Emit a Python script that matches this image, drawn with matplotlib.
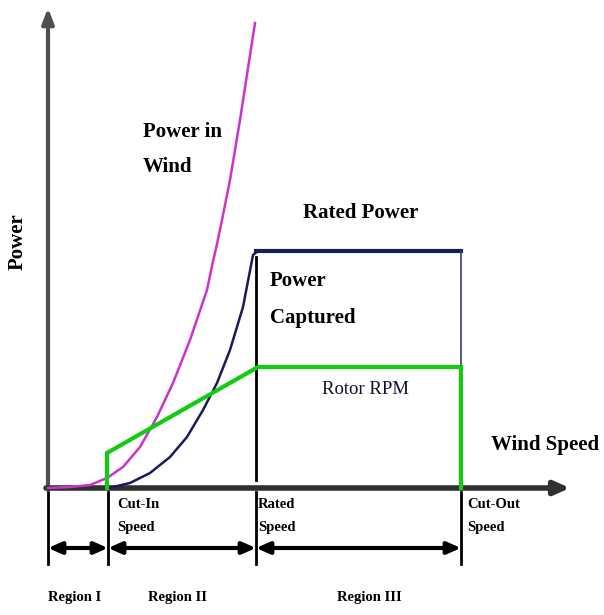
import matplotlib
matplotlib.use("Agg")
import matplotlib.pyplot as plt

# ---- data (wind speed / power in drawing units) ----
wind_x = [48, 70, 90, 107, 123, 140, 157, 173, 190, 207, 212, 217, 222, 230, 240, 255]
wind_p = [0, 1, 3, 10, 21, 41, 71, 105, 148, 198, 222, 244, 268, 308, 368, 465]

cap_x = [108, 113, 130, 150, 170, 187, 203, 217, 230, 243, 253, 258]
cap_p = [0, 1, 5, 15, 31, 51, 78, 105, 138, 181, 233, 237]

rated_x = [256, 461]
rated_p = [237, 237]

rpm_x = [107, 107, 258, 461, 461]
rpm_p = [0, 35, 121, 121, 0]

speeds = [48, 108, 256, 461]
speed_labels = ["", "Cut-In\nSpeed", "Rated\nSpeed", "Cut-Out\nSpeed"]
speed_offsets = [0, 9, 2, 6]
region_labels = ["Region I", "Region II", "Region III"]
region_offsets = [-3, -5, 11]

Y0 = 488  # baseline pixel row

fig = plt.figure(figsize=(6.04, 6.15), dpi=100)
ax = fig.add_axes([0, 0, 1, 1])
ax.set_xlim(0, 604)
ax.set_ylim(615, 0)
ax.axis("off")

def py(p):
    return [Y0 - v for v in p]

serif = ["Liberation Serif", "DejaVu Serif"]

# axes arrows
ax.annotate("", xy=(48, 8), xytext=(48, Y0 + 2),
            arrowprops=dict(arrowstyle="-|>,head_width=0.35,head_length=0.9",
                            lw=3, color="#505050", shrinkA=0, shrinkB=0))
ax.annotate("", xy=(570, Y0), xytext=(46, Y0),
            arrowprops=dict(arrowstyle="-|>,head_width=0.4,head_length=0.9",
                            lw=4, color="#303030", shrinkA=0, shrinkB=0))

# curves
ax.plot(wind_x, py(wind_p), color="#cc33cc", lw=1.8, zorder=3)
ax.plot(cap_x, py(cap_p), color="#1a1a5e", lw=1.8, zorder=3)
ax.plot(rated_x, py(rated_p), color="#1a1a5e", lw=3, zorder=3)
ax.plot([461, 461], [Y0 - rated_p[0], Y0 - rpm_p[2]], color="#3a3a7a", lw=1.2, zorder=3)
ax.plot([256, 256], [Y0 - 231, Y0 - 8], color="black", lw=2, zorder=3)
ax.plot(rpm_x, py(rpm_p), color="#11cc11", lw=3, zorder=4, solid_joinstyle="miter")

# vertical markers below axis
for s in speeds:
    ax.plot([s, s], [Y0 + 4, 564], color="black", lw=2)

# double arrows
for a, b in zip(speeds[:-1], speeds[1:]):
    ax.annotate("", xy=(b, 548), xytext=(a, 548),
                arrowprops=dict(arrowstyle="<|-|>,head_width=0.35,head_length=0.8",
                                lw=3, color="black", shrinkA=0, shrinkB=0))

# speed labels
for s, lab, off in zip(speeds, speed_labels, speed_offsets):
    if lab:
        l1, l2 = lab.split("\n")
        ax.text(s + off, 505, l1, family=serif, fontweight="bold", fontsize=10.5,
                va="center", ha="left")
        ax.text(s + off, 528, l2, family=serif, fontweight="bold", fontsize=10.5,
                va="center", ha="left")

# region labels
for a, b, lab, off in zip(speeds[:-1], speeds[1:], region_labels, region_offsets):
    ax.text((a + b) / 2 + off, 597, lab, family=serif, fontweight="bold", fontsize=10.5,
            va="center", ha="center")

# text labels
big = dict(family=serif, fontweight="bold", fontsize=15)
ax.text(143, 132, "Power in", va="center", ha="left", **big)
ax.text(143, 167, "Wind", va="center", ha="left", **big)
ax.text(361, 213, "Rated Power", va="center", ha="center", **big)
ax.text(270, 281, "Power", va="center", ha="left", **big)
ax.text(270, 318, "Captured", va="center", ha="left", **big)
ax.text(365, 390, "Rotor RPM", family=serif, fontsize=13.5,
        va="center", ha="center", color="#101030")
ax.text(545, 445, "Wind Speed", va="center", ha="center", **big)
ax.text(18, 242, "Power", va="center", ha="center", rotation=90, **big)

fig.savefig("out.png", dpi=100)
